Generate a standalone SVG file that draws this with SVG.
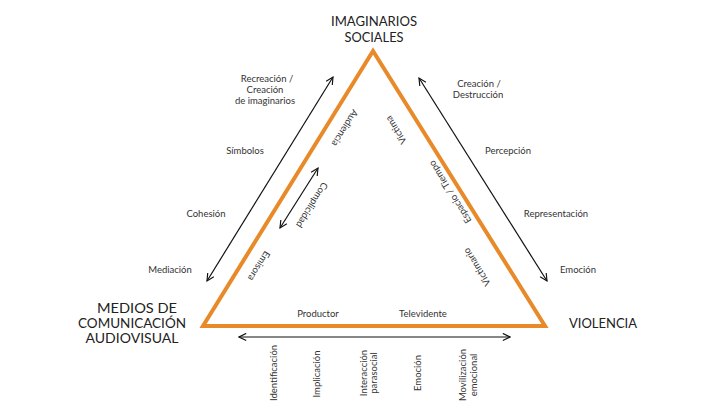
<svg xmlns="http://www.w3.org/2000/svg" width="715" height="408" viewBox="0 0 715 408">
<style>
.title{font-family:Lato,"Liberation Sans",sans-serif;font-size:13.5px;fill:#222;text-anchor:middle}
.lbl{font-family:Lato,"Liberation Sans",sans-serif;font-size:9.5px;fill:#333;text-anchor:middle}
.con{stroke:#111;stroke-width:1.2;fill:none}
.tri{stroke:#E98A2A;stroke-width:4;fill:none;stroke-linejoin:miter}
</style>
<defs>
<marker id="arr" viewBox="0 0 10 10" refX="9" refY="5" markerWidth="9" markerHeight="9" orient="auto-start-reverse" markerUnits="userSpaceOnUse">
<path d="M1,1 L9,5 L1,9" fill="none" stroke="#111" stroke-width="1.3"/>
</marker>
</defs>
<rect width="715" height="408" fill="#fff"/>
<g id="triangle">
<polygon class="tri" points="373,51 203,326 545,326"/>
</g>
<g id="connectors">
<line class="con" x1="207" y1="281" x2="333" y2="77" marker-start="url(#arr)" marker-end="url(#arr)"/>
<line class="con" x1="419" y1="78" x2="547" y2="281" marker-start="url(#arr)" marker-end="url(#arr)"/>
<line class="con" x1="318" y1="168" x2="280" y2="228" marker-start="url(#arr)" marker-end="url(#arr)"/>
<line class="con" x1="239" y1="337" x2="510" y2="337" marker-start="url(#arr)" marker-end="url(#arr)"/>
</g>
<g id="imaginarios">
<text class="title" x="374" y="26" textLength="86" lengthAdjust="spacingAndGlyphs">IMAGINARIOS</text>
<text class="title" x="374" y="42" textLength="59" lengthAdjust="spacingAndGlyphs">SOCIALES</text>
</g>
<g id="medios">
<text class="title" x="137" y="313" textLength="80" lengthAdjust="spacingAndGlyphs">MEDIOS DE</text>
<text class="title" x="132" y="328" textLength="108" lengthAdjust="spacingAndGlyphs">COMUNICACIÓN</text>
<text class="title" x="132" y="343" textLength="93" lengthAdjust="spacingAndGlyphs">AUDIOVISUAL</text>
</g>
<g id="violencia">
<text class="title" x="603" y="328" textLength="68" lengthAdjust="spacingAndGlyphs">VIOLENCIA</text>
</g>
<g id="left-labels">
<text class="lbl" x="267" y="82">Recreación /</text>
<text class="lbl" x="265" y="93">Creación</text>
<text class="lbl" x="265" y="104">de imaginarios</text>
<text class="lbl" x="245" y="154">Símbolos</text>
<text class="lbl" x="206" y="217">Cohesión</text>
<text class="lbl" x="170" y="273">Mediación</text>
</g>
<g id="right-labels">
<text class="lbl" x="479" y="87">Creación /</text>
<text class="lbl" x="478" y="98">Destrucción</text>
<text class="lbl" x="508" y="154">Percepción</text>
<text class="lbl" x="556" y="217">Representación</text>
<text class="lbl" x="578" y="273">Emoción</text>
</g>
<g id="inner-labels">
<text class="lbl" transform="translate(345,128) rotate(121.8)" y="3.3">Audiencia</text>
<text class="lbl" transform="translate(312,205) rotate(121.8)" y="3.3">Complicidad</text>
<text class="lbl" transform="translate(259,266) rotate(121.8)" y="3.3">Emisora</text>
<text class="lbl" transform="translate(396,130) rotate(-121.9)" y="3.3">Víctima</text>
<text class="lbl" transform="translate(450,192) rotate(-121.9)" y="3.3">Espacio / Tiempo</text>
<text class="lbl" transform="translate(477,267) rotate(-121.9)" y="3.3">Victimario</text>
<text class="lbl" x="318" y="317">Productor</text>
<text class="lbl" x="423" y="317">Televidente</text>
</g>
<g id="bottom-labels">
<text class="lbl" transform="translate(276.5,373) rotate(-90)">Identificación</text>
<text class="lbl" transform="translate(319.5,374) rotate(-90)">Implicación</text>
<text class="lbl" transform="translate(366.5,373) rotate(-90)">Interacción</text>
<text class="lbl" transform="translate(376.5,373) rotate(-90)">parasocial</text>
<text class="lbl" transform="translate(420.5,373) rotate(-90)">Emoción</text>
<text class="lbl" transform="translate(465.5,375) rotate(-90)">Movilización</text>
<text class="lbl" transform="translate(476.5,375) rotate(-90)">emocional</text>
</g>
</svg>
